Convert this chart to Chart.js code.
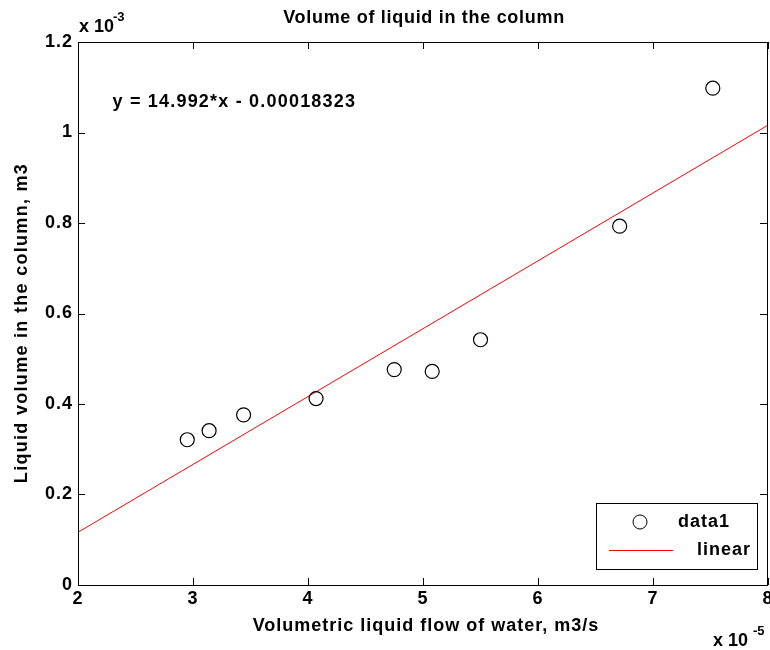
<!DOCTYPE html>
<html><head><meta charset="utf-8">
<script src="https://cdn.jsdelivr.net/npm/chart.js@4/dist/chart.umd.min.js"></script>
<style>html,body{margin:0;padding:0;background:#fff}</style>
</head><body>
<canvas id="c" width="770" height="650"></canvas>
<script>
// Data (x in units of 1e-5 m3/s, y in units of 1e-3 m3)
const flowX   = [2.95, 3.14, 3.44, 4.07, 4.75, 5.08, 5.50, 6.71, 7.52];
const volumeY = [0.321, 0.341, 0.376, 0.412, 0.476, 0.472, 0.542, 0.793, 1.098];
const fitX = [2, 8];
const fitY = [0.1166, 1.0163];
const xTicks = [2, 3, 4, 5, 6, 7, 8];
const yTicks = [0, 0.2, 0.4, 0.6, 0.8, 1.0, 1.2];
const yTickLabels = ['0', '0.2', '0.4', '0.6', '0.8', '1', '1.2'];
const seriesNames = ['data1', 'linear'];
const chartTitle = 'Volume of liquid in the column';
const xTitle = 'Volumetric liquid flow of water, m3/s';
const yTitle = 'Liquid volume in the column, m3';
const equation = 'y = 14.992*x - 0.00018323';
const eqPos = {x: 2.30, y: 1.067};

const FONT = 'Liberation Sans, Arial, Helvetica, sans-serif';
const noPad = () => ({left: 0, top: 0, right: 0, bottom: 0});

const spacing = {
  id: 'spacing',
  beforeDraw(chart) { chart.ctx.letterSpacing = '1px'; }
};

const decor = {
  id: 'decor',
  afterDraw(chart) {
    const ctx = chart.ctx, xs = chart.scales.x, ys = chart.scales.y;
    const a = chart.chartArea;
    ctx.save();
    ctx.strokeStyle = '#000'; ctx.lineWidth = 1;
    ctx.strokeRect(Math.round(a.left) + 0.5, Math.round(a.top) + 0.5, Math.round(a.right - a.left) - 1, Math.round(a.bottom - a.top));
    ctx.beginPath();
    xTicks.forEach(v => {
      const px = Math.round(xs.getPixelForValue(v)) + 0.5;
      ctx.moveTo(px, a.bottom); ctx.lineTo(px, a.bottom - 7);
      ctx.moveTo(px, a.top); ctx.lineTo(px, a.top + 7);
    });
    yTicks.forEach(v => {
      const py = Math.round(ys.getPixelForValue(v)) + 0.5;
      ctx.moveTo(a.left, py); ctx.lineTo(a.left + 7, py);
      ctx.moveTo(a.right - 1, py); ctx.lineTo(a.right - 8, py);
    });
    ctx.stroke();
    ctx.fillStyle = '#000';
    // title
    ctx.letterSpacing = '0.7px';
    ctx.font = 'bold 18px ' + FONT;
    ctx.textAlign = 'center'; ctx.textBaseline = 'middle';
    ctx.fillText(chartTitle, 424, 18);
    // axis titles
    ctx.letterSpacing = '1px';
    ctx.fillText(xTitle, 426, 626);
    ctx.save();
    ctx.letterSpacing = '1.3px';
    ctx.translate(22, 323); ctx.rotate(-Math.PI / 2);
    ctx.fillText(yTitle, 0, 0);
    ctx.restore();
    // exponent labels
    ctx.letterSpacing = '0px';
    ctx.textAlign = 'left'; ctx.textBaseline = 'alphabetic';
    ctx.font = 'bold 18px ' + FONT;
    ctx.fillText('x 10', 79, 32);
    ctx.font = 'bold 13px ' + FONT;
    ctx.fillText('-3', 113, 21);
    ctx.font = 'bold 18px ' + FONT;
    ctx.fillText('x 10', 713, 646);
    ctx.font = 'bold 13px ' + FONT;
    ctx.fillText('-5', 753, 635);
    // equation
    ctx.font = 'bold 18px ' + FONT;
    ctx.letterSpacing = '1.2px';
    ctx.textBaseline = 'middle';
    ctx.fillText(equation, xs.getPixelForValue(eqPos.x), ys.getPixelForValue(eqPos.y));
    // legend
    ctx.letterSpacing = '1px';
    const lx = 596, ly = 503, lw = 161, lh = 66;
    ctx.fillStyle = '#fff';
    ctx.fillRect(lx, ly, lw, lh);
    ctx.strokeStyle = '#000';
    ctx.strokeRect(lx + 0.5, ly + 0.5, lw, lh);
    ctx.beginPath();
    ctx.arc(640, 522, 7, 0, Math.PI * 2);
    ctx.stroke();
    ctx.strokeStyle = '#ff0000';
    ctx.beginPath();
    ctx.moveTo(609, 550.5); ctx.lineTo(673, 550.5);
    ctx.stroke();
    ctx.fillStyle = '#000';
    ctx.font = 'bold 18px ' + FONT;
    ctx.textAlign = 'left';
    ctx.fillText(seriesNames[0], 678, 522);
    ctx.fillText(seriesNames[1], 697, 550);
    ctx.restore();
    ctx.letterSpacing = '0px';
  }
};

new Chart(document.getElementById('c'), {
  type: 'scatter',
  data: {
    datasets: [
      {
        label: seriesNames[0],
        data: flowX.map((x, i) => ({x: x, y: volumeY[i]})),
        pointStyle: 'circle', pointRadius: 7, pointBorderWidth: 1.2,
        borderColor: '#000', backgroundColor: 'rgba(0,0,0,0)',
        showLine: false
      },
      {
        label: seriesNames[1],
        type: 'line',
        data: fitX.map((x, i) => ({x: x, y: fitY[i]})),
        borderColor: '#ff0000', borderWidth: 1, pointRadius: 0,
        fill: false, tension: 0
      }
    ]
  },
  options: {
    responsive: false, animation: false, devicePixelRatio: 1,
    layout: {autoPadding: false, padding: {top: 42, right: 2, left: 0, bottom: 0}},
    plugins: {legend: {display: false}, tooltip: {enabled: false}, title: {display: false}},
    scales: {
      x: {
        type: 'linear', min: 2, max: 8,
        afterFit(s) { s.height = 65; s.paddingLeft = 0; s.paddingRight = 0; s.getPadding = noPad; },
        afterBuildTicks(s) { s.ticks = xTicks.map(v => ({value: v})); },
        grid: {display: false, drawTicks: false},
        border: {display: false},
        ticks: {color: '#000', font: {family: FONT, size: 18, weight: 'bold'}, padding: 3, maxRotation: 0, autoSkip: false}
      },
      y: {
        type: 'linear', min: 0, max: 1.2,
        afterFit(s) { s.width = 78; s.paddingTop = 0; s.paddingBottom = 0; s.getPadding = noPad; },
        afterBuildTicks(s) { s.ticks = yTicks.map(v => ({value: v})); },
        grid: {display: false, drawTicks: false},
        border: {display: false},
        ticks: {color: '#000', font: {family: FONT, size: 18, weight: 'bold'}, padding: 5, autoSkip: false,
          callback: (v) => { const i = yTicks.findIndex(t => Math.abs(t - v) < 1e-9); return i >= 0 ? yTickLabels[i] : ''; }}
      }
    }
  },
  plugins: [spacing, decor]
});
</script>
</body></html>
